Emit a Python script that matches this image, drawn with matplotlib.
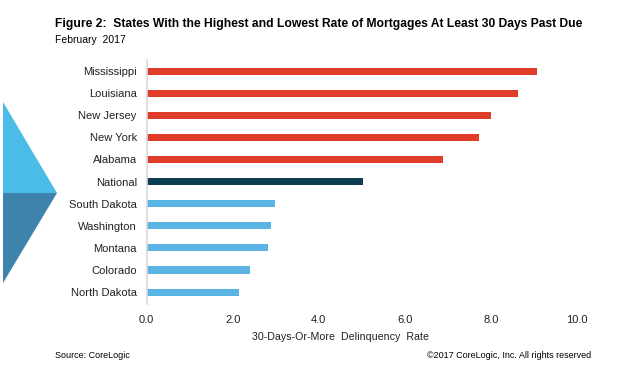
import numpy as np
import matplotlib
matplotlib.use('Agg')
import matplotlib.pyplot as plt
from matplotlib.patches import Polygon

plt.rcParams['font.family'] = ['Liberation Sans', 'DejaVu Sans']

states = ['Mississippi', 'Louisiana', 'New Jersey', 'New York', 'Alabama', 'National',
          'South Dakota', 'Washington', 'Montana', 'Colorado', 'North Dakota']
rates = [9.06, 8.63, 7.99, 7.72, 6.88, 5.03, 2.99, 2.90, 2.81, 2.41, 2.15]
groups = ['high'] * 5 + ['nat'] + ['low'] * 5
xticks = [0, 2, 4, 6, 8, 10]

colors = {'high': '#e03c2a', 'nat': '#0c3e52', 'low': '#5ab4e4'}

fig = plt.figure(figsize=(6.4, 3.8), dpi=100)
ax = fig.add_axes([0.229, 0.2, 0.673, 0.642])

y = np.arange(len(states))
ax.barh(y, rates, height=0.32, color=[colors[g] for g in groups])
ax.set_ylim(len(states) - 0.46, -0.5)
ax.set_xlim(0, 10)
ax.set_yticks(y)
ax.set_yticklabels(states, fontsize=8, color='#222222')
ax.set_xticks(xticks)
ax.set_xticklabels(['%.1f' % t for t in xticks], fontsize=8, color='#222222')
ax.tick_params(length=0, pad=7)
ax.tick_params(axis='x', pad=8)
for s in ['top', 'right', 'bottom']:
    ax.spines[s].set_visible(False)
ax.spines['left'].set_color('#d9d9d9')
ax.spines['left'].set_linewidth(1.2)

fig.text(341 / 640, 1 - 337 / 380, '30-Days-Or-More  Delinquency  Rate', fontsize=7.7,
         va='center', ha='center', color='#222222')
fig.text(55 / 640, 1 - 24 / 380, 'Figure 2:  States With the Highest and Lowest Rate of Mortgages At Least 30 Days Past Due',
         fontsize=8.75, fontweight='bold', va='center', ha='left')
fig.text(55 / 640, 1 - 40 / 380, 'February  2017', fontsize=7.5, va='center', ha='left')
fig.text(55 / 640, 1 - 356 / 380, 'Source: CoreLogic', fontsize=6.5, va='center', ha='left')
fig.text(591 / 640, 1 - 356 / 380, '\u00a92017 CoreLogic, Inc. All rights reserved', fontsize=6.5, va='center', ha='right')

# arrow shape on the left
W, H = 640, 380
top = Polygon([(3 / W, 1 - 102 / H), (57 / W, 1 - 193 / H), (3 / W, 1 - 193 / H)],
              closed=True, transform=fig.transFigure, color='#4bbce8', lw=0)
bot = Polygon([(3 / W, 1 - 193 / H), (57 / W, 1 - 193 / H), (3 / W, 1 - 283 / H)],
              closed=True, transform=fig.transFigure, color='#3d83ab', lw=0)
fig.patches.extend([top, bot])

fig.savefig('out.png', dpi=100)
